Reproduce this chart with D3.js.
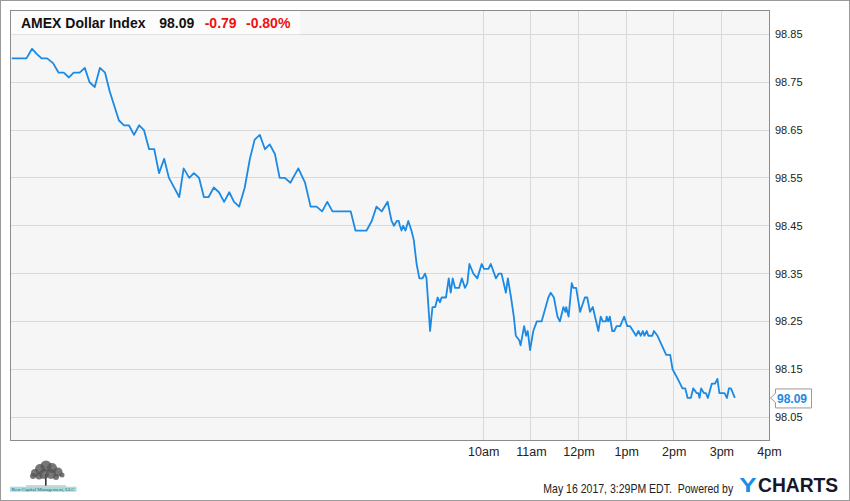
<!DOCTYPE html>
<html><head><meta charset="utf-8">
<script src="https://cdn.jsdelivr.net/npm/d3@7"></script>
<style>
html,body{margin:0;padding:0;background:#fff;}
svg{display:block;font-family:"Liberation Sans",Arial,sans-serif;}
</style></head><body>
<svg id="c" width="850" height="501"></svg>
<script>
// minutes after midnight, May 16 2017 (EDT)
const times = [6,24.5,31.5,37,43.5,50.5,58,65,71.5,78,84,91.5,98,104,110.5,117,123.5,129.5,141,147.5,153.5,160,166.5,172.5,179,185.5,191.5,198,204,217,222.5,229.5,235.5,242,
248,254,260.5,267,273.5,280,286,292.5,299.5,306,312,318.5,325,331,337.5,343.5,350,357,367,375.5,382.5,390,397,403.5,410,433,439,453,459.5,465.5,472,479.5,484.5,487.5,491,493.5,
495,497,499,502,505.5,509.5,512.5,516,519.5,523.5,526.5,528.5,533,536,539.5,542.5,545.5,547.5,553,556.5,559,561.5,564.5,569.5,573,577,580,582.5,587.5,592.5,598,601,606.5,609.5,616,619.5,623,628.5,631,635,638.5,641,645.5,647,651.5,654,656,659,663,667.5,673.5,682,685,689,693.5,696.5,701,703.5,704.5,707.5,711.5,713.5,717,
722,724,728,731,734.5,738,745,748,750.5,754.5,755.5,757.5,759.5,762.5,765,768,772.5,777.5,781.5,785,792.5,795.5,798.5,801,803,806,808,813,815,819.5,825,830.5,835.5,838.5,845,851,854.5,857.5,861.5,864.5,869,871,872.5,874.5,878,880.5,883,888,892,895,897.5,904,907,909.5,912,917];
const prices = [98.80,98.80,98.82,98.81,98.80,98.80,98.79,98.77,98.77,98.76,98.77,98.77,98.78,98.75,98.74,98.78,98.77,98.73,98.67,98.66,98.66,98.64,98.66,98.65,98.61,98.61,98.56,98.59,98.55,98.51,98.57,98.55,98.56,98.55,
98.51,98.51,98.53,98.52,98.50,98.52,98.50,98.49,98.53,98.59,98.63,98.64,98.61,98.62,98.60,98.55,98.55,98.54,98.57,98.54,98.49,98.49,98.48,98.50,98.48,98.48,98.44,98.44,98.46,98.49,98.48,98.50,98.46,98.45,98.46,98.46,
98.45,98.44,98.45,98.44,98.46,98.44,98.42,98.37,98.34,98.34,98.35,98.34,98.23,98.28,98.28,98.30,98.29,98.30,98.30,98.34,98.31,98.34,98.32,98.32,98.34,98.32,98.33,98.37,98.35,98.34,98.37,98.36,98.36,98.37,98.34,98.35,98.35,98.31,98.34,98.30,98.26,98.22,98.21,98.20,98.24,98.22,98.23,98.19,98.23,98.25,98.25,98.30,98.31,98.30,98.26,98.25,98.28,98.27,98.28,98.26,98.33,98.32,98.32,
98.27,98.28,98.30,98.30,98.27,98.28,98.23,98.26,98.25,98.25,98.26,98.25,98.26,98.23,98.23,98.24,98.24,98.26,98.24,98.24,98.22,98.23,98.22,98.23,98.22,98.23,98.22,98.22,98.23,98.22,98.20,98.18,98.18,98.15,98.13,98.11,98.11,98.09,98.09,98.11,98.10,98.10,98.09,98.11,98.10,98.10,98.09,98.12,98.12,98.13,98.10,98.10,98.09,98.11,98.11,98.09];

const yTicks = [98.05,98.15,98.25,98.35,98.45,98.55,98.65,98.75,98.85];
const xTickMinutes = [600,660,720,780,840,900,960];
const xTickLabels = ["10am","11am","12pm","1pm","2pm","3pm","4pm"];
const titleName = "AMEX Dollar Index";
const lastPrice = "98.09";
const changeAbs = "-0.79";
const changePct = "-0.80%";
const footerText = "May 16 2017, 3:29PM EDT.  Powered by";
const logoCaption = "Kerr Capital Management, LLC";

const data = times.map((t,i)=>({t, p: prices[i]}));

const W = 850, H = 501;
const L = 10.5, R = 769.5, T = 10.5, B = 440.5;
const svg = d3.select("#c");

const x = d3.scaleLinear().domain([5, 960]).range([11, 769]);
const y = d3.scaleLinear().domain([98.0, 98.9]).range([441, 10.5]);
const crisp = v => Math.round(v - 0.5) + 0.5;

// place a text so that it spans exactly [x0, x0+width] by horizontal scaling
function fitText(sel, x0, width){
  const n = sel.node().getComputedTextLength();
  const sx = width / n;
  sel.attr("x", x0 / sx).attr("transform", `scale(${sx},1)`);
}

// outer frame
svg.append("rect").attr("x",0.5).attr("y",0.5).attr("width",W-1).attr("height",H-1)
  .attr("fill","#fff").attr("stroke","#9a9a9a");

// plot background
svg.append("rect").attr("x",L).attr("y",T).attr("width",R-L).attr("height",B-T)
  .attr("fill","#f6f6f6");

// grid
const grid = svg.append("g");
grid.selectAll("line.h").data(yTicks).join("line").attr("class","h")
  .attr("x1",L).attr("x2",R).attr("y1",d=>crisp(y(d))).attr("y2",d=>crisp(y(d)))
  .attr("stroke","#d9d9d9").attr("stroke-width",1);
grid.selectAll("line.v").data(xTickMinutes.filter(d=>d<960)).join("line").attr("class","v")
  .attr("y1",T).attr("y2",B).attr("x1",d=>crisp(x(d))).attr("x2",d=>crisp(x(d)))
  .attr("stroke","#d9d9d9").attr("stroke-width",1);

// title box
svg.append("rect").attr("x",11).attr("y",11).attr("width",289).attr("height",23).attr("fill","#fcfcfc");
svg.append("line").attr("x1",11).attr("x2",300).attr("y1",34.5).attr("y2",34.5).attr("stroke","#e2e2e2");

// line
svg.append("path").datum(data)
  .attr("d", d3.line().x(d=>x(d.t)).y(d=>y(d.p)))
  .attr("fill","none").attr("stroke","#1b8ae4").attr("stroke-width",1.8)
  .attr("stroke-linejoin","round");

// plot border
svg.append("rect").attr("x",L).attr("y",T).attr("width",R-L).attr("height",B-T)
  .attr("fill","none").attr("stroke","#8c8c8c");

// title text
svg.append("text").attr("x",21).attr("y",28.3)
  .attr("font-size",14).attr("font-weight","bold").attr("fill","#111").text(titleName);
svg.append("text").attr("x",159.3).attr("y",28.3).attr("font-size",14).attr("font-weight","bold").attr("fill","#111").text(lastPrice);
svg.append("text").attr("x",204.7).attr("y",28.3).attr("font-size",14).attr("font-weight","bold").attr("fill","#ee1111").text(changeAbs);
svg.append("text").attr("x",246).attr("y",28.3).attr("font-size",14).attr("font-weight","bold").attr("fill","#ee1111").text(changePct);

// y axis
const yAxis = svg.append("g").attr("transform",`translate(769,0)`)
  .call(d3.axisRight(y).tickValues(yTicks).tickSize(0).tickPadding(6).tickFormat(d3.format(".2f")));
yAxis.select(".domain").remove();
yAxis.selectAll("text").attr("font-size",11).attr("fill","#222")
  .attr("font-family","'Liberation Sans',Arial,sans-serif");

// x axis
const xAxis = svg.append("g").attr("transform",`translate(0,441)`)
  .call(d3.axisBottom(x).tickValues(xTickMinutes).tickSize(0).tickPadding(6)
    .tickFormat((d,i)=>xTickLabels[i]));
xAxis.select(".domain").remove();
xAxis.selectAll("text").attr("font-size",12.5).attr("fill","#222")
  .attr("font-family","'Liberation Sans',Arial,sans-serif");

// last price tag
const last = data[data.length-1];
const yl = y(last.p);
svg.append("path")
  .attr("d",`M770.5,${yl} L775.5,${yl-4.5} L775.5,${yl-9} L811.5,${yl-9} L811.5,${yl+10} L775.5,${yl+10} L775.5,${yl+4.5} Z`)
  .attr("fill","#fff").attr("stroke","#9a9a9a");
svg.append("text").attr("x",777).attr("y",yl+5).attr("font-size",12).attr("font-weight","bold")
  .attr("fill","#1b8ae4").text(lastPrice);

// footer
const ft = svg.append("text").attr("y",493.3).attr("font-size",12.5).attr("fill","#222")
  .attr("xml:space","preserve").text(footerText);
fitText(ft, 543.3, 190);
const yT = svg.append("text").attr("y",491.7).attr("font-size",20).attr("font-weight","bold")
  .attr("fill","#1a8fe8").text("Y");
fitText(yT, 739.3, 17.4);
const cT = svg.append("text").attr("y",491.7).attr("font-size",20).attr("font-weight","bold")
  .attr("fill","#14182a").text("CHARTS");
fitText(cT, 758, 80.3);

// logo (tree)
const lg = svg.append("g");
lg.append("rect").attr("x",45).attr("y",474).attr("width",1.6).attr("height",12).attr("fill","#333");
const blobs = [[35,473,4],[40,469,5],[46,466,5.5],[52,468,5],[58,472,4.5],[62,475,2.5],[33,476,3],[44,474,5],[51,474,5],[39,476,3.5],[56,477,3]];
lg.selectAll("circle").data(blobs).join("circle").attr("cx",d=>d[0]).attr("cy",d=>d[1]).attr("r",d=>d[2])
  .attr("fill","#555").attr("opacity",0.8);
lg.append("line").attr("x1",26).attr("x2",66).attr("y1",486).attr("y2",486).attr("stroke","#aaa");
lg.append("rect").attr("x",10).attr("y",486.7).attr("width",66.5).attr("height",5).attr("fill","#a9ddd6");
const cap = lg.append("text").attr("y",491).attr("font-size",5)
  .attr("font-family","'Liberation Serif',serif").attr("fill","#2a5c8a").text(logoCaption);
fitText(cap, 11.7, 63);
</script>
</body></html>
